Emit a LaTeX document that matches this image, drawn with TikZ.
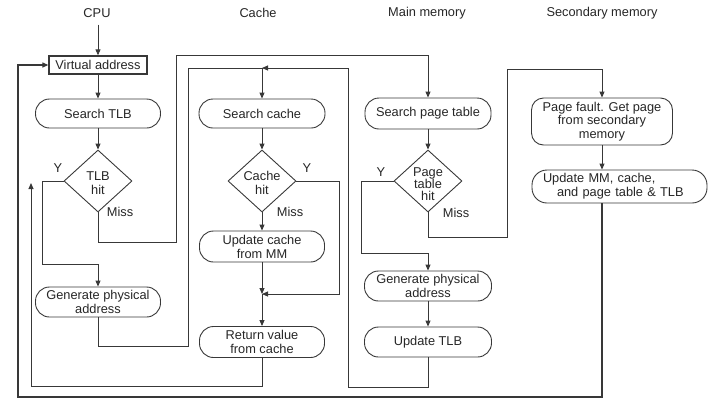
\documentclass[tikz,border=0pt]{standalone}
\usepackage{fontspec}
\setmainfont{Liberation Sans}
\usetikzlibrary{shapes.geometric,arrows.meta}
\begin{document}
\begin{tikzpicture}[x=1pt,y=-1pt,
  every node/.style={font=\fontsize{12.8}{14}\selectfont, text=black!85},
  ln/.style={draw=black!78,line width=0.9pt},
  arr/.style={ln,-{Triangle[length=6pt,width=5pt]}},
  term/.style={draw=black!78,line width=0.9pt,rounded corners=14pt,align=center,inner sep=0pt},
  dec/.style={draw=black!78,line width=0.9pt,diamond,inner sep=0pt,minimum width=68pt,minimum height=62pt},
  lbl/.style={inner sep=0pt}
]
\useasboundingbox (0,0) rectangle (728,408);

% headers
\node[lbl] (cpu) at (97,13) {CPU};
\node[lbl] (hcache) at (258,13) {Cache};
\node[lbl] (hmm) at (427,13) {Main memory};
\node[lbl] (hsec) at (602,13) {Secondary memory};

% CPU column
\node[draw=black!78,line width=1.3pt,minimum width=98pt,minimum height=18pt,inner sep=0pt] (va) at (98,65) {Virtual address};
\node[term,minimum width=125pt,minimum height=29pt] (stlb) at (98,113.5) {Search TLB};
\node[dec,label={[font=\fontsize{12.8}{14.5}\selectfont,align=center,yshift=-2pt]center:TLB\\hit}] (tlbhit) at (98,181) {};
\node[term,minimum width=125pt,minimum height=30pt] (gpa1) at (98,302) {Generate physical\\address};

% Cache column
\node[term,minimum width=126pt,minimum height=29pt] (scache) at (262,113.5) {Search cache};
\node[dec,label={[font=\fontsize{12.8}{14.5}\selectfont,align=center,yshift=-2pt]center:Cache\\hit}] (chit) at (262,181) {};
\node[term,minimum width=125pt,minimum height=31pt] (ucache) at (262,246.5) {Update cache\\from MM};
\node[term,minimum width=125pt,minimum height=31pt] (ret) at (262,342) {Return value\\from cache};
\coordinate (j0) at (262,68);
\coordinate (j1) at (262,294);
\coordinate (upend) at (31,183);

% Main memory column
\node[term,minimum width=126pt,minimum height=31pt] (spt) at (428,113.5) {Search page table};
\node[dec,label={[font=\fontsize{12.8}{12.2}\selectfont,align=center,yshift=-3pt]center:Page\\table\\hit}] (pthit) at (428,181) {};
\node[term,minimum width=127pt,minimum height=30pt] (gpa2) at (428,286) {Generate physical\\address};
\node[term,minimum width=127pt,minimum height=30pt] (utlb) at (428,342) {Update TLB};

% Secondary memory column
\node[term,rounded corners=12pt,minimum width=141pt,minimum height=47pt,font=\fontsize{12.8}{13.5}\selectfont] (pf) at (602,121.5) {Page fault. Get page\\from secondary\\memory};
\node[term,text width=153pt,align=left,inner xsep=11pt,inner ysep=0pt,minimum height=33pt,rounded corners=15pt] (umm) at (619.5,186.5) {Update MM, cache,\\\hspace*{14pt}and page table \& TLB};

% branch labels
\node[lbl] (y1) at (58,168) {Y};
\node[lbl] (m1) at (120,212) {Miss};
\node[lbl] (y2) at (307,168) {Y};
\node[lbl] (m2) at (290,212) {Miss};
\node[lbl] (y3) at (381,172) {Y};
\node[lbl] (m3) at (456,213) {Miss};

% connectors
\draw[arr] (cpu.south -| va.north) ++(0,7) -- (va.north);
\draw[arr] (va) -- (stlb);
\draw[arr] (stlb) -- (tlbhit);
\draw[arr] (tlbhit.west) -- (42,181) -- (42,264) -| (gpa1.north);
\draw[arr] (tlbhit.south) |- (176,242) -- (176,55) -| (spt.north);
\draw[ln] (gpa1.south) |- (188,346) -- (188,68) -- (j0);
\draw[arr] (j0) -- (scache.north);
\draw[arr] (utlb.south) |- (348,387) -- (348,68) -- (j0);
\draw[arr] (scache) -- (chit);
\draw[arr] (chit) -- (ucache);
\draw[arr] (ucache) -- (j1);
\draw[arr] (chit.east) -- (339,181) |- (j1);
\draw[arr] (j1) -- (ret);
\draw[arr] (ret.south) |- (31,386) -- (upend);
\draw[arr] (spt) -- (pthit);
\draw[arr] (pthit.west) -- (361,181) |- (428,253) -- (gpa2.north);
\draw[arr] (gpa2) -- (utlb);
\draw[arr] (pthit.south) |- (507,237) -- (507,69) -| (pf.north);
\draw[arr] (pf.south) -- (pf.south |- umm.north);
\draw[arr,line width=1.2pt] (pf.south |- umm.south) -- (602,397) -- (18,397) |- (va.west);

\end{tikzpicture}
\end{document}
